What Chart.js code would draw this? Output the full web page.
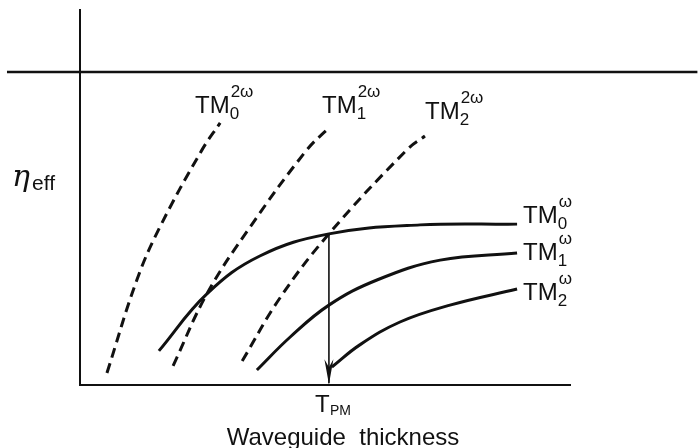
<!DOCTYPE html>
<html>
<head>
<meta charset="utf-8">
<script src="https://cdn.jsdelivr.net/npm/chart.js@4.4.1/dist/chart.umd.min.js"></script>
<style>
  html, body { margin: 0; padding: 0; background: #fff; }
  canvas { display: block; }
</style>
</head>
<body>
<canvas id="grafico" width="698" height="448"></canvas>
<script>
// Effective index vs waveguide thickness (arbitrary units, 0..100 on both axes)
// second harmonic modes (dashed)
const tm0_2wX = [5.5, 11.6, 16.3, 24.9, 28.6];
const tm0_2wY = [3.2, 28.0, 42.1, 62.7, 69.9];
const tm1_2wX = [19.0, 25.9, 34.7, 46.3, 51.0];
const tm1_2wY = [5.1, 24.3, 42.1, 62.7, 68.8];
const tm2_2wX = [33.1, 40.8, 50.8, 66.7, 70.4];
const tm2_2wY = [6.4, 23.2, 40.3, 62.7, 66.4];
// fundamental modes (solid)
const tm0_wX = [16.1, 25.9, 36.7, 50.8, 69.4, 89.2];
const tm0_wY = [9.1, 24.3, 34.4, 40.3, 42.7, 42.9];
const tm1_wX = [36.1, 42.9, 50.8, 60.6, 73.5, 89.2];
const tm1_wY = [4.0, 12.8, 21.3, 28.0, 33.3, 35.2];
const tm2_wX = [51.4, 57.1, 65.3, 75.5, 89.2];
const tm2_wY = [4.8, 10.7, 16.8, 21.3, 25.6];
// phase matching thickness (TM0 w crossing TM2 2w) and the upper reference line
const tpmX = [50.8, 50.8];
const tpmY = [40.3, 0.5];
const topX = [-14.9, 126];
const topY = [83.5, 83.5];

const FONT = '"Liberation Sans", Arial, sans-serif';

function pts(xs, ys) {
    return xs.map((x, i) => ({ x: x, y: ys[i] }));
}

function curva(xs, ys, dashed) {
    return {
        data: pts(xs, ys),
        borderColor: '#111',
        borderWidth: 3,
        borderDash: dashed ? [10, 6] : [],
        pointRadius: 0,
        tension: 0.4,
        fill: false,
    };
}

// mode labels "TM" with subscript order and superscript frequency
const etiquetas = [
    { x: 195, y: 113, sub: '0', sup: '2ω' },
    { x: 322, y: 113, sub: '1', sup: '2ω' },
    { x: 425, y: 119, sub: '2', sup: '2ω' },
    { x: 523, y: 223, sub: '0', sup: 'ω' },
    { x: 523, y: 260, sub: '1', sup: 'ω' },
    { x: 523, y: 300, sub: '2', sup: 'ω' },
];

const textos = {
    id: 'textos',
    afterDraw(chart) {
        const ctx = chart.ctx;
        ctx.save();
        ctx.fillStyle = '#111';
        ctx.textBaseline = 'alphabetic';
        ctx.textAlign = 'left';

        for (let e of etiquetas) {
            ctx.font = '24px ' + FONT;
            ctx.fillText('TM', e.x, e.y);
            let w = ctx.measureText('TM').width;
            ctx.font = '17px ' + FONT;
            ctx.fillText(e.sub, e.x + w, e.y + 6);
            ctx.fillText(e.sup, e.x + w + 1, e.y - 16);
        }

        // arrow head at the end of the T_PM line
        const meta = chart.getDatasetMeta(6);
        const tip = meta.data[1];
        ctx.beginPath();
        ctx.moveTo(tip.x, tip.y + 1);
        ctx.lineTo(tip.x - 4.5, tip.y - 24);
        ctx.lineTo(tip.x, tip.y - 16);
        ctx.lineTo(tip.x + 4.5, tip.y - 24);
        ctx.closePath();
        ctx.fill();

        // y label
        ctx.font = 'italic 30px "DejaVu Serif", serif';
        ctx.fillText('η', 12, 186);
        ctx.font = '21px ' + FONT;
        ctx.fillText('eff', 32, 190);

        // x labels
        ctx.font = '24px ' + FONT;
        ctx.fillText('T', 315, 412);
        ctx.font = '14px ' + FONT;
        ctx.fillText('PM', 330, 415);
        ctx.font = '24px ' + FONT;
        ctx.textAlign = 'center';
        ctx.fillText('Waveguide  thickness', 343, 445);
        ctx.restore();
    }
};

const datasets = [
    curva(tm0_2wX, tm0_2wY, true),
    curva(tm1_2wX, tm1_2wY, true),
    curva(tm2_2wX, tm2_2wY, true),
    curva(tm0_wX, tm0_wY, false),
    curva(tm1_wX, tm1_wY, false),
    curva(tm2_wX, tm2_wY, false),
    {
        data: pts(tpmX, tpmY),
        borderColor: '#111',
        borderWidth: 1.6,
        pointRadius: 0,
    },
    {
        data: pts(topX, topY),
        borderColor: '#111',
        borderWidth: 2.5,
        pointRadius: 0,
        clip: false,
    },
];

const ejeOpts = {
    type: 'linear',
    min: 0,
    max: 100,
    ticks: { display: false },
    grid: { display: false, drawTicks: false },
    border: { display: true, color: '#111', width: 2 },
};

new Chart(document.getElementById('grafico'), {
    type: 'line',
    data: { datasets: datasets },
    options: {
        responsive: false,
        animation: false,
        devicePixelRatio: 1,
        layout: { padding: { left: 80, right: 128, top: 10, bottom: 63 } },
        plugins: {
            legend: { display: false },
            tooltip: { enabled: false },
        },
        scales: {
            x: Object.assign({}, ejeOpts, { position: 'bottom' }),
            y: Object.assign({}, ejeOpts, { position: 'left' }),
        },
    },
    plugins: [textos],
});
</script>
</body>
</html>
